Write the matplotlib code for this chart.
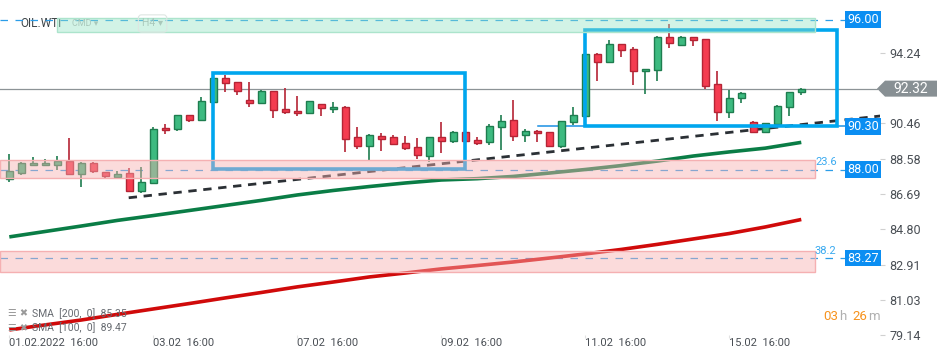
import matplotlib
matplotlib.use('Agg')
import matplotlib.pyplot as plt
import matplotlib.transforms as mtransforms
from matplotlib.patches import Rectangle, Polygon
import numpy as np

plt.rcParams['font.family'] = ['Roboto', 'DejaVu Sans']

# OIL.WTI, H4 candles starting 01.02.2022 16:00
opens = [87.48, 87.83, 88.22, 88.22, 88.26, 88.44, 87.74, 88.33, 87.85, 87.62,
         87.80, 86.84, 87.26, 90.20, 90.15, 90.90, 90.63, 91.59, 92.87, 92.66,
         91.70, 91.54, 92.18, 91.22, 91.11, 91.00, 91.48, 91.22, 91.32, 89.72,
         89.24, 89.77, 89.72, 89.40, 89.19, 88.74, 89.72, 89.51, 89.99, 89.56,
         89.45, 90.25, 90.63, 89.83, 90.04, 89.99, 89.24, 90.52, 90.85, 94.16,
         93.73, 94.69, 94.42, 93.25, 93.30, 95.06, 94.64, 95.06, 94.96, 92.55,
         91.06, 91.80, 90.52, 89.99, 90.42, 91.32, 92.12]
highs = [88.81, 88.40, 88.65, 88.56, 88.72, 89.68, 88.40, 88.40, 87.85, 87.92,
         88.10, 88.13, 90.27, 90.42, 90.90, 90.90, 91.86, 92.92, 93.03, 92.66,
         92.66, 92.23, 92.18, 92.34, 91.91, 91.64, 91.48, 91.61, 91.38, 90.25,
         89.88, 89.93, 89.83, 89.77, 89.67, 89.72, 90.54, 90.06, 89.99, 89.72,
         90.42, 90.90, 91.70, 90.15, 90.09, 89.99, 90.58, 91.32, 94.16, 94.24,
         94.92, 94.69, 94.53, 93.35, 95.12, 95.76, 95.12, 95.06, 94.96, 93.25,
         92.23, 92.12, 90.58, 90.47, 91.43, 92.12, 92.34]
lows = [87.35, 87.72, 88.22, 88.22, 87.97, 87.74, 87.08, 87.83, 87.56, 87.62,
        86.84, 86.73, 87.26, 89.91, 90.04, 90.55, 90.63, 91.59, 92.12, 91.96,
        91.32, 91.54, 90.74, 90.95, 90.84, 91.00, 90.87, 91.00, 88.95, 89.11,
        88.52, 89.01, 89.35, 89.03, 88.58, 88.42, 88.90, 89.40, 89.51, 89.29,
        89.29, 89.03, 89.51, 89.45, 89.45, 89.19, 89.13, 90.36, 90.85, 92.74,
        93.67, 94.03, 92.53, 92.05, 92.74, 94.47, 94.64, 94.58, 92.32, 90.61,
        90.74, 91.54, 89.95, 89.95, 90.42, 90.87, 91.96]
closes = [87.90, 88.33, 88.33, 88.33, 88.44, 87.74, 88.33, 87.94, 87.67, 87.74,
          86.84, 87.32, 90.15, 90.09, 90.90, 90.63, 91.64, 92.87, 92.60, 92.18,
          91.54, 92.18, 91.16, 91.06, 91.00, 91.64, 91.27, 91.32, 89.65, 89.24,
          89.83, 89.65, 89.35, 89.13, 88.76, 89.72, 89.51, 89.99, 89.51, 89.40,
          90.31, 90.58, 89.77, 90.04, 89.93, 89.24, 90.58, 90.90, 94.16, 93.73,
          94.69, 94.37, 93.25, 93.35, 95.06, 94.74, 95.06, 94.90, 92.48, 91.06,
          91.80, 92.07, 89.99, 90.47, 91.38, 92.12, 92.28]

# moving averages, sampled every 3 candles
sma_idx = list(range(0, 67, 3))
sma100 = [84.40, 84.69, 84.98, 85.28, 85.54, 85.81, 86.08, 86.35, 86.64, 86.88,
          87.09, 87.28, 87.44, 87.51, 87.63, 87.81, 88.00, 88.21, 88.45, 88.72,
          88.94, 89.14, 89.45]
sma200 = [79.43, 79.70, 79.96, 80.26, 80.55, 80.84, 81.14, 81.43, 81.73, 81.99,
          82.26, 82.47, 82.69, 82.87, 83.06, 83.27, 83.49, 83.73, 84.00, 84.29,
          84.58, 84.93, 85.33]

# trend line (start / end)
trend_x = [9.95, 72.6]
trend_y = [86.49, 90.86]

# horizontal levels
levels = [96.00, 88.00, 83.27]
level_labels = ['96.00', '88.00', '83.27']
support_level = 90.30
last_price = 92.32

# zones (low, high) and boxes (x0, x1, low, high)
pink_zones = [(87.52, 88.51), (82.51, 83.66)]
green_zone = (95.36, 96.08)
boxes = [(17, 38, 88.03, 93.16), (48, 69, 90.35, 95.45)]
fib = [('23.6', 88.00), ('38.2', 83.27)]

yticks = [94.24, 92.35, 90.46, 88.58, 86.69, 84.80, 82.91, 81.03, 79.14]
xtick_idx = [0, 12, 24, 36, 48, 60]
xtick_labels = ['01.02.2022  16:00', '03.02  16:00', '07.02  16:00',
                '09.02  16:00', '11.02  16:00', '15.02  16:00']

W, H = 950, 361
fig = plt.figure(figsize=(W / 100, H / 100), dpi=100)
ax = fig.add_axes([0, 0, 880 / W, 1])
ax.set_xlim(-0.775, 72.56)
ax.set_ylim(77.77, 97.055)
for s in ax.spines.values():
    s.set_visible(False)

px = mtransforms.Affine2D().scale(1 / W, -1 / H).translate(0, 1) + fig.transFigure
px_x = mtransforms.Affine2D().scale(1 / W, 1) + fig.transFigure
bl = mtransforms.blended_transform_factory(px_x, ax.transData)

o = np.array(opens); c = np.array(closes)
idx = np.arange(len(o))
up = c >= o
face = np.where(up, '#3dba80', '#f43c50')
edge = np.where(up, '#1e7d4f', '#b52435')
ax.vlines(idx, lows, highs, colors=edge, lw=1.2, zorder=2.5)
ax.bar(idx, np.maximum(np.abs(c - o), 0.07), bottom=np.minimum(o, c), width=0.58,
       color=face, edgecolor=edge, linewidth=1, zorder=3)

ax.plot(sma_idx, sma100, color='#0a7d46', lw=2.6, zorder=2.8, solid_capstyle='butt')
ax.plot(sma_idx, sma200, color='#d00a0a', lw=2.6, zorder=2.8, solid_capstyle='butt')
ax.plot(trend_x, trend_y, color='#2b3035', lw=2.0, dashes=(3.0, 2.4), zorder=2.9)

ax.plot([-0.775, 72.3], [last_price] * 2, color='#8c9396', lw=0.9, zorder=2)
for lv in levels:
    ax.plot([-0.775, 69.64], [lv, lv], color='#2b9de8', lw=0.9, dashes=(6, 6), zorder=2.2)
ax.plot([44.06, 69.64], [support_level] * 2, color='#1a8fe3', lw=1.1, zorder=2.2)

for x0, x1, lo, hi in boxes:
    ax.add_patch(Rectangle((x0, lo), x1 - x0, hi - lo, fill=False, ec='#00a6ee',
                           lw=2.6, zorder=4))

for lo, hi in pink_zones:
    ax.add_patch(Rectangle((-0.775, lo), 67.14 + 0.775, hi - lo,
                           fc=(248 / 255, 177 / 255, 177 / 255, 0.45), ec='#f5b0b2',
                           lw=1, zorder=5))
ax.add_patch(Rectangle((4.0, green_zone[0]), 63.14, green_zone[1] - green_zone[0],
                       fc=(148 / 255, 228 / 255, 197 / 255, 0.42), ec='#ace4cc',
                       lw=1, zorder=5))

for txt, lv in fib:
    ax.text(67.14, lv + 0.12, txt, color='#3aaaf0', fontsize=8, ha='left',
            va='bottom', zorder=6)

for lab, lv in zip(level_labels + ['90.30'], levels + [support_level]):
    ax.text(863, lv, lab, transform=bl, color='white', fontsize=9, ha='center',
            va='center', zorder=7, clip_on=False,
            bbox=dict(boxstyle='square,pad=0.15', fc='#0b8ef2', ec='none'))

# right axis
ax.yaxis.tick_right()
ax.set_yticks(yticks)
ax.set_yticklabels(['' if t == 92.35 else f'{t:.2f}' for t in yticks])
ax.tick_params(axis='y', direction='out', length=3.6, pad=3, color='#d0d0d0',
               labelcolor='#4a4f55', labelsize=9)
ax.set_xticks([])

# last price tag
hh = 8 / 18.72
ax.add_patch(Polygon([(877, last_price), (885, last_price + hh), (937, last_price + hh),
                      (937, last_price - hh), (885, last_price - hh)],
                     closed=True, transform=bl, fc='#889094', ec='none',
                     clip_on=False, zorder=8))
ax.text(911, last_price, f'{last_price:.2f}', transform=bl, color='white', fontsize=10,
        ha='center', va='center', zorder=9, clip_on=False)

# x labels
for i, lab in zip(xtick_idx, xtick_labels):
    ax.text(i - 0.05, 78.73, lab, color='#4a4f55', fontsize=8, ha='left', va='center')
    ax.vlines(i - 0.05, 78.98, 79.15, color='#e2e2e2', lw=0.8)

# header
ax.text(20, 23.5, 'OIL.WTI', transform=px, color='#3d4448', fontsize=8.5,
        ha='left', va='center', zorder=1.5)
ax.text(72, 23.5, 'CMD ▾', transform=px, color='#a9c8bb', fontsize=6.5,
        ha='left', va='center', zorder=6)
ax.text(142, 23.5, 'H4 ▾', transform=px, color='#a9c8bb', fontsize=7.5,
        ha='left', va='center', zorder=6,
        bbox=dict(boxstyle='round,pad=0.35,rounding_size=0.3', fc='none', ec='#dde6e2', lw=0.8))

# legend
for yy, lab in [(313.5, 'SMA  [200,  0]  85.35'), (328, 'SMA  [100,  0]  89.47')]:
    ax.text(8, yy, '☰ ✖', transform=px, color='#9a9a9a', fontsize=7,
            family=['DejaVu Sans'], ha='left', va='center')
    ax.text(32, yy, lab, transform=px, color='#666a70', fontsize=7.5,
            ha='left', va='center')

# candle countdown
for xx, t, col in [(823, '03', '#f7931e'), (839, 'h', '#b0b0b0'),
                   (852, '26', '#f7931e'), (868, 'm', '#b0b0b0')]:
    ax.text(xx, 316.5, t, transform=px, color=col, fontsize=9.5, ha='left',
            va='center', clip_on=False)

fig.savefig('out.png', dpi=100)
